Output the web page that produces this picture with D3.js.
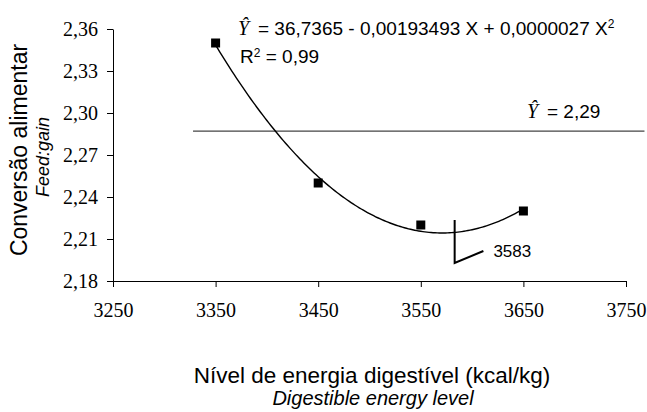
<!DOCTYPE html>
<html>
<head>
<meta charset="utf-8">
<script src="https://cdn.jsdelivr.net/npm/d3@7"></script>
<style>
  body { margin: 0; background: #fff; }
  .tickText { font-family: "Liberation Serif", "Times New Roman", serif; font-size: 20px; fill: #000; }
  .sans { font-family: "Liberation Sans", Arial, sans-serif; fill: #000; }
  .hat { font-family: "Liberation Serif", "Times New Roman", serif; font-style: italic; }
</style>
</head>
<body>
<div id="chart"></div>
<script>
// Feed:gain vs digestible energy

// Data
var energy = [3350, 3450, 3550, 3650];
var feedGain = [2.35, 2.25, 2.22, 2.23];
var xTicks = [3250, 3350, 3450, 3550, 3650, 3750];
var yTicks = [2.18, 2.21, 2.24, 2.27, 2.30, 2.33, 2.36];

// Mean line (Y = 2,29) and the optimum marker (3583)
var meanLineX = [3328, 3768];
var meanFeedGain = 2.287;
var optimumMark = [[3583, 2.2236], [3583, 2.1929], [3611, 2.2014]];

// Size
var width = 647;
var height = 412;

var svg = d3
  .select("#chart")
  .append("svg")
  .attr("width", width)
  .attr("height", height);

// Scales
var xScale = d3.scaleLinear().domain([3250, 3750]).range([113, 626]);
var yScale = d3.scaleLinear().domain([2.18, 2.36]).range([281, 29]);

// Comma as decimal mark
var ptBR = d3.formatLocale({ decimal: ",", thousands: ".", grouping: [3], currency: ["", ""] });

// Axes
var xAxis = d3.axisBottom(xScale)
  .tickValues(xTicks)
  .tickFormat(d3.format("d"))
  .tickSizeInner(6)
  .tickSizeOuter(0)
  .tickPadding(16);

var yAxis = d3.axisLeft(yScale)
  .tickValues(yTicks)
  .tickFormat(ptBR.format(".2f"))
  .tickSizeInner(6)
  .tickSizeOuter(0)
  .tickPadding(9);

var gx = svg.append("g")
  .attr("class", "xAxis")
  .attr("transform", "translate(0," + yScale(2.18) + ")")
  .call(xAxis);

var gy = svg.append("g")
  .attr("class", "yAxis")
  .attr("transform", "translate(" + xScale(3250) + ",0)")
  .call(yAxis);

[gx, gy].forEach(function(g) {
  g.selectAll("path, line").attr("stroke", "#000").attr("stroke-width", 1);
  g.selectAll("text").attr("class", "tickText").attr("font-family", null).attr("font-size", null);
});

// Least squares quadratic (the trend line of the points)
function fitQuadratic(xs, ys) {
  var mx = d3.mean(xs);
  var s = [0, 0, 0, 0, 0];
  var t = [0, 0, 0];
  xs.forEach(function(x, i) {
    var u = (x - mx) / 100;
    for (var k = 0; k < 5; k++) s[k] += Math.pow(u, k);
    for (var j = 0; j < 3; j++) t[j] += ys[i] * Math.pow(u, j);
  });
  function det3(m) {
    return m[0][0] * (m[1][1] * m[2][2] - m[1][2] * m[2][1]) -
      m[0][1] * (m[1][0] * m[2][2] - m[1][2] * m[2][0]) +
      m[0][2] * (m[1][0] * m[2][1] - m[1][1] * m[2][0]);
  }
  var M = [[s[0], s[1], s[2]], [s[1], s[2], s[3]], [s[2], s[3], s[4]]];
  var D = det3(M);
  var coef = [0, 1, 2].map(function(col) {
    var Mc = M.map(function(row, r) {
      return row.map(function(v, c) { return c === col ? t[r] : v; });
    });
    return det3(Mc) / D;
  });
  return function(x) {
    var u = (x - mx) / 100;
    return coef[0] + coef[1] * u + coef[2] * u * u;
  };
}

var trend = fitQuadratic(energy, feedGain);
var curveX = d3.range(energy[0], energy[energy.length - 1] + 0.1, 2);

var line = d3.line()
  .x(function(d) { return xScale(d[0]); })
  .y(function(d) { return yScale(d[1]); });

// Mean line
svg.append("path")
  .datum(meanLineX.map(function(x) { return [x, meanFeedGain]; }))
  .attr("d", line)
  .attr("fill", "none")
  .attr("stroke", "#444")
  .attr("stroke-width", 1.3);

// Trend curve
svg.append("path")
  .datum(curveX.map(function(x) { return [x, trend(x)]; }))
  .attr("d", line)
  .attr("fill", "none")
  .attr("stroke", "#000")
  .attr("stroke-width", 1.4);

// Optimum marker
svg.append("path")
  .datum(optimumMark)
  .attr("d", line)
  .attr("fill", "none")
  .attr("stroke", "#000")
  .attr("stroke-width", 2);

svg.append("text")
  .attr("class", "sans")
  .attr("x", xScale(optimumMark[2][0]) + 10)
  .attr("y", yScale(optimumMark[2][1]) + 6)
  .attr("font-size", 17)
  .text("3583");

// Points
svg.selectAll("rect.pt")
  .data(energy)
  .enter()
  .append("rect")
  .attr("class", "pt")
  .attr("x", function(d) { return xScale(d) - 4.5; })
  .attr("y", function(d, i) { return yScale(feedGain[i]) - 4.5; })
  .attr("width", 9)
  .attr("height", 9)
  .attr("fill", "#000");

// Equation
var eq = svg.append("text").attr("class", "sans").attr("y", 35).attr("font-size", 19);
eq.append("tspan").attr("class", "hat").attr("x", 238).attr("font-size", 20).text("\u0176");
eq.append("tspan").attr("x", 258).text("= 36,7365 - 0,00193493 X + 0,0000027 X");
eq.append("tspan").attr("dy", -7).attr("font-size", 12).text("2");

var r2 = svg.append("text").attr("class", "sans").attr("y", 63).attr("font-size", 19);
r2.append("tspan").attr("x", 240).text("R");
r2.append("tspan").attr("dy", -6.5).attr("font-size", 12).text("2");
r2.append("tspan").attr("dy", 6.5).text(" = 0,99");

var mean = svg.append("text").attr("class", "sans").attr("y", 118).attr("font-size", 19);
mean.append("tspan").attr("class", "hat").attr("x", 527).attr("font-size", 20).text("\u0176");
mean.append("tspan").attr("x", 547).text("= 2,29");

// Axis titles
svg.append("text")
  .attr("class", "sans")
  .attr("x", 372)
  .attr("y", 383)
  .attr("text-anchor", "middle")
  .attr("font-size", 22.5)
  .text("Nível de energia digestível (kcal/kg)");

svg.append("text")
  .attr("class", "sans")
  .attr("x", 373)
  .attr("y", 405)
  .attr("text-anchor", "middle")
  .attr("font-size", 20)
  .attr("font-style", "italic")
  .text("Digestible energy level");

svg.append("text")
  .attr("class", "sans")
  .attr("transform", "translate(27,150)rotate(-90)")
  .attr("text-anchor", "middle")
  .attr("font-size", 23)
  .text("Conversão alimentar");

svg.append("text")
  .attr("class", "sans")
  .attr("transform", "translate(49,157)rotate(-90)")
  .attr("text-anchor", "middle")
  .attr("font-size", 18)
  .attr("font-style", "italic")
  .text("Feed:gain");
</script>
</body>
</html>
